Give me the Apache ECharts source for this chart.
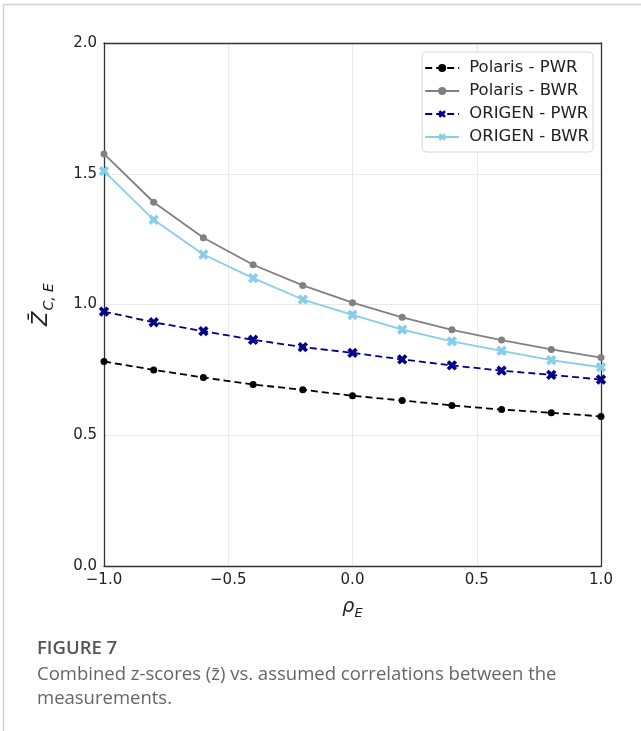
<!DOCTYPE html>
<html>
<head>
<meta charset="utf-8">
<script src="https://cdn.jsdelivr.net/npm/echarts@6/dist/echarts.min.js"></script>
<style>
html,body{margin:0;padding:0;background:#fff;}
#chart{width:641px;height:731px;}
</style>
</head>
<body>
<div id="chart"></div>
<script>
const rho = [-1.0, -0.8, -0.6, -0.4, -0.2, 0.0, 0.2, 0.4, 0.6, 0.8, 1.0];
const polarisPWR = [0.782, 0.750, 0.721, 0.694, 0.674, 0.651, 0.633, 0.614, 0.598, 0.586, 0.572];
const polarisBWR = [1.576, 1.391, 1.255, 1.152, 1.073, 1.007, 0.951, 0.903, 0.864, 0.828, 0.797];
const origenPWR = [0.973, 0.932, 0.898, 0.865, 0.837, 0.815, 0.790, 0.767, 0.747, 0.731, 0.713];
const origenBWR = [1.510, 1.324, 1.191, 1.101, 1.019, 0.960, 0.904, 0.859, 0.823, 0.787, 0.760];
const seriesNames = ['Polaris - PWR', 'Polaris - BWR', 'ORIGEN - PWR', 'ORIGEN - BWR'];
const xTicks = [-1.0, -0.5, 0.0, 0.5, 1.0];
const yTicks = [0.0, 0.5, 1.0, 1.5, 2.0];

const xSym = 'path://M-1,-3L1,-3L1,-1L3,-1L3,1L1,1L1,3L-1,3L-1,1L-3,1L-3,-1L-1,-1Z';
const pair = arr => rho.map((x, i) => [x, arr[i]]);
const fmt = v => v.toFixed(1).replace('-', '\u2212');
const font = 'DejaVu Sans';
const frame = {show: true, onZero: false, lineStyle: {color: '#333', width: 1.3}};
const xmin = xTicks[0], xmax = xTicks[xTicks.length - 1];
const ymin = yTicks[0], ymax = yTicks[yTicks.length - 1];

const chart = echarts.init(document.getElementById('chart'), null, {renderer: 'canvas'});
chart.setOption({
  animation: false,
  backgroundColor: '#fff',
  textStyle: {fontFamily: font},
  grid: {left: 104, right: 40, top: 43, bottom: 165},
  xAxis: [{
    type: 'value', min: xmin, max: xmax, interval: 0.5, position: 'bottom',
    axisLine: frame, axisTick: {show: false},
    splitLine: {show: true, lineStyle: {color: '#e9e9e9', width: 1}},
    axisLabel: {formatter: fmt, fontSize: 15, color: '#222', margin: 7, fontFamily: font},
    name: '{r|ρ}{s|E}', nameLocation: 'middle', nameGap: 29,
    nameTextStyle: {rich: {
      r: {fontSize: 19, fontStyle: 'italic', color: '#222', fontFamily: font, lineHeight: 22, verticalAlign: 'bottom'},
      s: {fontSize: 13, fontStyle: 'italic', color: '#222', fontFamily: font, lineHeight: 12, verticalAlign: 'bottom', padding: [0, 0, -3, 0]}
    }}
  }, {
    type: 'value', min: xmin, max: xmax, interval: 0.5, position: 'top',
    axisLine: frame, axisTick: {show: false}, axisLabel: {show: false}, splitLine: {show: false}
  }],
  yAxis: [{
    type: 'value', min: ymin, max: ymax, interval: 0.5, position: 'left',
    axisLine: frame, axisTick: {show: false},
    splitLine: {show: true, lineStyle: {color: '#e9e9e9', width: 1}},
    axisLabel: {formatter: fmt, fontSize: 15, color: '#222', margin: 7, fontFamily: font},
    name: '{z|Z\u0304}{s|C, E}', nameLocation: 'middle', nameGap: 52, nameRotate: 90,
    nameTextStyle: {rich: {
      z: {fontSize: 21, fontStyle: 'italic', color: '#222', fontFamily: font, lineHeight: 24, verticalAlign: 'bottom'},
      s: {fontSize: 14, fontStyle: 'italic', color: '#222', fontFamily: font, lineHeight: 14, verticalAlign: 'bottom', padding: [0, 0, -4, 1]}
    }}
  }, {
    type: 'value', min: ymin, max: ymax, interval: 0.5, position: 'right',
    axisLine: frame, axisTick: {show: false}, axisLabel: {show: false}, splitLine: {show: false}
  }],
  legend: {
    orient: 'vertical', right: 48, top: 52,
    data: seriesNames,
    itemWidth: 34, itemHeight: 10, itemGap: 5,
    padding: [7, 4, 6, 2],
    backgroundColor: 'rgba(255,255,255,0.85)',
    borderColor: '#d8d8d8', borderWidth: 1, borderRadius: 4,
    textStyle: {fontSize: 16.5, color: '#222', fontFamily: font, padding: [0, 0, 0, 5], lineHeight: 18}
  },
  series: [
    {name: seriesNames[0], type: 'line', data: pair(polarisPWR), symbol: 'circle', symbolSize: 7,
      lineStyle: {color: '#000', width: 1.8, type: [7, 4]}, itemStyle: {color: '#000'}, z: 3},
    {name: seriesNames[1], type: 'line', data: pair(polarisBWR), symbol: 'circle', symbolSize: 7,
      lineStyle: {color: '#808080', width: 1.8}, itemStyle: {color: '#808080'}, z: 3},
    {name: seriesNames[2], type: 'line', data: pair(origenPWR), symbol: xSym, symbolSize: 11, symbolRotate: 45,
      lineStyle: {color: '#00008b', width: 1.8, type: [7, 4]}, itemStyle: {color: '#00008b'}, z: 3},
    {name: seriesNames[3], type: 'line', data: pair(origenBWR), symbol: xSym, symbolSize: 11, symbolRotate: 45,
      lineStyle: {color: '#87ceeb', width: 1.8}, itemStyle: {color: '#87ceeb'}, z: 3}
  ],
  graphic: [
    {type: 'line', shape: {x1: 3, y1: 4.5, x2: 641, y2: 4.5}, style: {stroke: '#cfcfcf', lineWidth: 1.5}},
    {type: 'line', shape: {x1: 3.5, y1: 4, x2: 3.5, y2: 731}, style: {stroke: '#cfcfcf', lineWidth: 1.5}},
    {type: 'text', left: 37, top: 639, style: {text: 'FIGURE 7', font: '600 18.5px "Open Sans"', fill: '#555'}},
    {type: 'text', left: 37, top: 663, style: {text: 'Combined z-scores (z\u0304) vs. assumed correlations between the\nmeasurements.', font: '18.5px "Open Sans"', fill: '#666', lineHeight: 24}}
  ]
});
</script>
</body>
</html>
